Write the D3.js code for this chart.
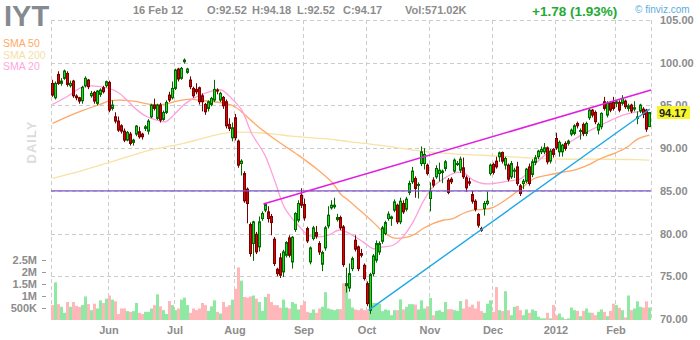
<!DOCTYPE html>
<html>
<head>
<meta charset="utf-8">
<script src="https://cdn.jsdelivr.net/npm/d3@7/dist/d3.min.js"></script>
<style>
  body { margin: 0; background: #fff; }
  svg { display: block; font-family: Arial, "Liberation Sans", sans-serif; }
</style>
</head>
<body>
<div class="chart"></div>
<script>
// IYT daily, 4 May 2011 .. 16 Feb 2012 (200 sessions)
const open = [
  97.58, 95.9, 98.63, 97.58, 98.17, 98.75, 97.31, 97.85, 96.1, 95.9,
  95.55, 97.31, 97.97, 96.13, 96.52, 95.24, 96.29, 97.07, 97.31, 97.7,
  94.65, 93.67, 93.17, 92.62, 91.99, 90.94, 91.64, 90.67, 91.64, 91.92,
  91.64, 92.31, 91.99, 93.67, 95.04, 93.48, 95.04, 93.36, 94.18, 96.21,
  95.9, 96.99, 99.26, 98.17, 100.12, 98.87, 97.97, 96.99, 96.88, 97.07,
  96.13, 95.12, 94.65, 95.12, 95.63, 96.8, 95.63, 95.94, 95.43, 92.78,
  91.21, 93.56, 90.82, 88.2, 87.03, 85.2, 81.06, 78.83, 79.92, 78.44,
  81.76, 82.74, 82.54, 82.0, 79.34, 75.82, 77.15, 75.51, 77.46, 79.49,
  76.68, 80.47, 81.56, 84.49, 83.4, 80.59, 76.68, 79.42, 80.12, 78.83,
  76.41, 78.32, 80.9, 83.01, 83.13, 81.64, 81.88, 80.78, 73.87, 73.63,
  75.9, 79.22, 78.44, 77.66, 76.29, 74.14, 71.02, 75.31, 76.88, 77.85,
  79.1, 80.0, 81.76, 81.76, 82.74, 83.32, 81.37, 83.52, 82.85, 84.81,
  86.06, 86.45, 85.67, 88.2, 88.2, 88.01, 84.1, 86.25, 86.64, 87.03,
  87.15, 87.62, 86.25, 86.37, 87.31, 88.09, 87.42, 87.7, 86.53, 86.06,
  84.57, 83.79, 82.23, 80.59, 82.93, 83.52, 87.03, 88.09, 88.48, 88.99,
  89.49, 88.01, 88.01, 86.64, 87.31, 87.81, 85.59, 85.86, 86.13, 87.81,
  86.92, 88.32, 88.99, 89.57, 89.57, 90.04, 88.48, 89.85, 91.13, 89.57,
  89.57, 90.55, 90.55, 91.64, 91.72, 92.89, 91.99, 92.78, 91.72, 93.56,
  94.45, 94.18, 92.11, 92.5, 95.43, 93.87, 95.31, 95.35, 95.24, 95.35,
  95.24, 95.51, 94.65, 95.04, 94.57, 93.48, 94.34, 94.57, 94.45, 92.52
];
const high = [
  98.0, 97.8, 99.0, 98.2, 99.2, 99.0, 97.9, 98.0, 96.3, 96.0,
  97.3, 98.4, 98.1, 96.7, 96.7, 96.8, 97.0, 97.3, 97.9, 97.9,
  95.6, 94.2, 93.7, 92.8, 92.3, 92.0, 91.9, 91.1, 92.7, 92.5,
  91.8, 92.7, 93.4, 95.2, 95.8, 95.2, 95.3, 94.4, 95.6, 96.6,
  97.8, 99.3, 99.4, 99.5, 100.5, 99.4, 98.4, 97.2, 97.6, 97.2,
  96.4, 95.3, 95.6, 96.0, 98.0, 97.0, 96.6, 96.1, 95.7, 93.5,
  93.0, 94.0, 91.0, 88.7, 87.3, 85.4, 81.3, 81.5, 80.2, 82.0,
  82.6, 83.6, 83.2, 82.3, 79.6, 76.0, 77.7, 78.1, 79.1, 79.8,
  79.7, 82.5, 83.9, 85.3, 84.1, 80.8, 78.5, 80.9, 80.9, 79.1,
  78.0, 80.9, 83.2, 83.9, 84.2, 82.3, 82.1, 81.0, 76.0, 76.5,
  77.3, 79.8, 78.6, 78.2, 76.5, 74.4, 75.4, 77.6, 79.2, 79.1,
  80.9, 81.5, 82.6, 82.1, 84.0, 83.5, 84.2, 83.9, 84.3, 86.2,
  87.8, 86.7, 86.0, 90.2, 90.0, 88.2, 86.0, 86.6, 88.0, 88.3,
  87.5, 88.6, 86.5, 86.6, 88.8, 88.5, 89.0, 88.9, 86.8, 86.5,
  85.0, 84.0, 82.4, 80.8, 83.8, 84.9, 88.2, 88.3, 89.0, 89.6,
  89.6, 89.0, 88.2, 88.5, 87.7, 88.4, 85.8, 86.4, 87.7, 88.2,
  88.7, 89.2, 89.8, 90.2, 90.6, 90.2, 89.9, 90.0, 91.8, 90.9,
  90.5, 90.8, 91.0, 92.3, 92.8, 93.1, 92.3, 93.0, 93.1, 94.6,
  94.6, 94.4, 93.0, 94.2, 96.0, 95.5, 95.5, 96.0, 95.6, 95.6,
  96.2, 95.7, 95.2, 95.2, 95.5, 94.3, 95.2, 94.8, 94.6, 94.18
];
const low = [
  96.0, 95.7, 97.4, 97.3, 98.0, 97.2, 97.1, 95.9, 95.6, 95.2,
  95.2, 97.1, 96.9, 95.9, 95.2, 95.0, 96.0, 96.4, 97.1, 94.2,
  94.4, 92.9, 91.9, 91.7, 90.7, 90.8, 90.3, 90.3, 91.4, 91.1,
  91.0, 92.0, 91.6, 93.5, 94.4, 93.3, 93.0, 93.2, 94.0, 95.4,
  95.7, 96.8, 97.8, 98.0, 99.9, 98.7, 96.9, 95.9, 96.3, 95.1,
  94.3, 93.9, 94.3, 94.9, 95.4, 96.3, 95.4, 94.6, 92.3, 92.0,
  90.8, 90.9, 87.7, 86.8, 83.6, 81.2, 77.3, 76.8, 77.6, 77.9,
  81.5, 82.5, 81.3, 79.8, 76.2, 75.0, 74.8, 74.9, 77.2, 77.2,
  75.9, 80.2, 81.3, 83.0, 81.5, 78.9, 76.4, 79.2, 79.4, 77.5,
  75.6, 78.0, 80.6, 82.8, 82.9, 81.4, 80.4, 76.1, 73.1, 73.2,
  75.6, 77.9, 75.6, 77.2, 74.5, 71.5, 70.6, 75.0, 76.6, 77.5,
  78.8, 79.8, 81.5, 80.9, 82.5, 81.1, 81.1, 82.3, 82.6, 84.5,
  85.8, 84.2, 84.1, 87.9, 87.5, 86.8, 82.6, 85.4, 86.4, 86.1,
  85.9, 87.3, 84.6, 85.8, 87.1, 87.9, 87.1, 86.4, 84.9, 85.6,
  83.5, 82.6, 80.7, 80.2, 82.1, 83.3, 86.8, 86.9, 87.6, 88.4,
  88.2, 87.5, 86.1, 86.4, 86.5, 85.6, 84.4, 85.2, 85.9, 85.6,
  86.6, 88.0, 88.7, 89.3, 89.3, 88.1, 88.2, 88.9, 89.8, 89.0,
  89.0, 89.7, 90.3, 91.4, 91.5, 92.3, 91.0, 91.4, 91.4, 93.3,
  93.6, 92.8, 91.6, 92.2, 94.4, 93.6, 94.2, 94.4, 94.8, 94.2,
  95.0, 94.6, 94.3, 94.1, 94.3, 92.8, 94.1, 93.5, 91.9, 92.52
];
const close = [
  96.21, 97.58, 97.58, 97.85, 99.03, 97.46, 97.58, 96.13, 95.9, 95.51,
  97.11, 98.17, 97.19, 96.41, 95.51, 96.68, 96.8, 96.6, 97.78, 94.45,
  95.04, 93.17, 92.11, 91.99, 90.94, 91.84, 90.55, 90.94, 92.58, 91.33,
  91.33, 92.5, 93.17, 95.04, 94.65, 95.04, 93.28, 94.18, 95.35, 95.63,
  96.99, 99.14, 98.09, 99.34, 100.31, 99.26, 97.19, 96.13, 96.6, 95.43,
  95.43, 94.26, 95.43, 95.82, 96.88, 96.68, 96.41, 94.96, 92.62, 92.31,
  92.39, 91.21, 88.01, 88.48, 83.83, 83.52, 77.66, 81.37, 77.85, 81.37,
  82.35, 83.4, 81.76, 81.29, 76.49, 75.31, 75.12, 77.85, 78.95, 77.46,
  79.57, 82.35, 83.52, 83.32, 81.84, 79.14, 78.32, 80.67, 79.69, 77.85,
  77.78, 80.67, 82.15, 83.32, 83.32, 81.88, 80.67, 76.37, 74.14, 75.31,
  77.07, 78.17, 75.9, 77.46, 74.73, 71.8, 75.2, 77.38, 78.83, 78.83,
  80.67, 81.29, 82.27, 81.95, 83.71, 81.37, 83.79, 82.54, 84.03, 85.86,
  87.31, 85.28, 85.75, 89.57, 89.26, 87.03, 84.96, 85.67, 87.62, 87.42,
  87.31, 88.4, 84.81, 86.06, 88.6, 88.2, 88.71, 86.64, 85.35, 85.9,
  83.79, 82.85, 80.98, 80.39, 83.52, 83.79, 88.01, 87.15, 87.81, 89.45,
  88.48, 88.79, 86.37, 88.2, 87.42, 85.86, 84.69, 86.13, 87.54, 85.86,
  88.4, 88.87, 89.65, 89.85, 90.04, 88.4, 89.65, 89.26, 90.04, 90.67,
  90.35, 89.96, 90.82, 92.11, 92.62, 92.62, 92.07, 91.72, 92.89, 94.45,
  93.87, 93.09, 92.78, 94.06, 94.65, 95.24, 94.45, 94.65, 95.43, 94.45,
  95.82, 94.85, 94.96, 94.34, 94.73, 93.67, 95.04, 93.95, 92.23, 94.17
];
// volume, millions of shares
const volume = [
  0.62, 1.57, 0.66, 0.55, 0.30, 0.75, 0.55, 0.75, 0.59, 0.55,
  0.62, 0.98, 0.66, 0.41, 0.68, 0.48, 0.82, 0.71, 0.89, 1.02,
  0.85, 0.78, 0.25, 0.48, 0.48, 0.37, 0.34, 0.37, 0.71, 0.30,
  0.25, 0.34, 0.34, 0.48, 0.62, 1.07, 0.57, 0.41, 0.25, 0.79,
  0.62, 0.41, 0.48, 0.85, 0.93, 0.62, 0.30, 0.48, 0.41, 0.48,
  0.71, 0.62, 0.38, 0.57, 0.82, 0.34, 0.27, 0.75, 0.55, 0.62,
  0.85, 1.30, 2.19, 1.64, 0.96, 0.93, 0.98, 1.02, 0.89, 0.75,
  0.38, 0.96, 1.09, 0.75, 0.62, 0.62, 0.51, 0.85, 0.52, 0.48,
  0.75, 0.68, 0.44, 0.62, 0.78, 0.34, 0.30, 0.44, 0.30, 0.48,
  0.55, 1.16, 0.48, 0.44, 0.41, 0.45, 0.45, 1.53, 1.37, 0.89,
  0.52, 0.44, 0.41, 0.48, 0.41, 0.44, 0.55, 0.71, 0.71, 0.68,
  0.37, 0.44, 0.41, 0.20, 0.41, 0.41, 0.86, 0.44, 0.55, 0.66,
  0.66, 0.64, 0.44, 0.82, 0.48, 0.57, 0.92, 0.20, 0.38, 0.41,
  0.34, 0.75, 0.45, 0.45, 0.41, 0.38, 0.79, 0.48, 0.86, 0.55,
  0.64, 0.48, 0.78, 0.37, 0.30, 0.68, 0.82, 0.34, 1.37, 0.41,
  0.37, 1.20, 0.41, 0.20, 0.55, 0.59, 0.41, 0.20, 0.44, 0.30,
  0.44, 0.38, 0.14, 0.07, 0.07, 0.30, 0.07, 0.62, 0.20, 0.27,
  0.11, 0.04, 0.07, 0.52, 0.41, 0.38, 0.16, 0.38, 0.48, 0.31,
  0.30, 0.20, 0.34, 0.44, 0.34, 0.16, 0.38, 0.68, 0.62, 0.51,
  0.41, 0.11, 1.02, 0.41, 0.48, 0.78, 0.55, 0.52, 0.78, 0.52
];

// moving averages: [session index, price]
const sma20 = [
  [0, 95.12], [4.8, 96.02], [10.4, 97.19], [15.9, 97.19], [21.5, 96.6], [24.8, 95.63],
  [28.2, 94.45], [31.5, 93.67], [34.8, 93.28], [37.6, 93.09], [40.4, 93.87], [43.7, 95.04],
  [47, 95.82], [53.1, 96.68], [56.4, 96.8], [59.7, 95.82], [63.1, 94.45], [66.4, 91.72],
  [70.8, 89.18], [74.2, 86.06], [77.5, 82.93], [81.9, 80.98], [85.3, 79.81], [88.6, 79.61],
  [92, 79.81], [95.3, 80.39], [97.9, 80.2], [103.5, 79.03], [106.8, 78.24], [110.2, 78.44],
  [113.5, 78.63], [116.8, 79.61], [120.2, 81.37], [123.5, 83.71], [126.8, 85.47], [130.2, 86.37],
  [133.5, 87.03], [136.8, 87.15], [140.2, 86.25], [143.5, 85.86], [146.8, 85.86], [151.7, 86.13],
  [156.2, 86.45], [159.5, 87.62], [162.8, 88.79], [167.3, 89.96], [171.7, 90.55], [176.2, 91.53],
  [180.6, 92.31], [185.1, 93.09], [189.5, 93.79], [193.9, 94.18], [199, 94.45]
];
const sma50 = [
  [0, 92.89], [4.8, 93.67], [10.4, 94.45], [15.9, 95.12], [19.3, 95.55], [27, 95.51],
  [32.6, 95.12], [37, 95.12], [41.5, 95.51], [45.9, 95.74], [48.6, 95.63], [57.5, 95.24],
  [60.8, 94.85], [64.2, 93.87], [68.6, 92.5], [75.3, 90.74], [81.9, 89.18], [88.6, 87.42],
  [93, 86.06], [96.4, 84.49], [97.9, 84.1], [102.4, 82.74], [106.8, 81.37], [110.2, 80.2],
  [113.5, 79.49], [116.8, 79.49], [120.2, 79.81], [123.5, 80.59], [126.8, 81.17], [130.2, 81.56],
  [133.5, 81.76], [136.8, 82.35], [140.2, 82.74], [144.6, 82.85], [147.3, 83.13], [151.7, 84.1],
  [156.2, 85.28], [160.6, 86.45], [165.1, 86.84], [169.5, 87.15], [173.9, 87.42], [178.4, 88.01],
  [182.8, 88.79], [187.3, 89.38], [191.7, 90.16], [195, 91.06], [199, 91.53]
];
const sma200 = [
  [0, 86.45], [10.4, 87.42], [21.5, 88.6], [32.6, 89.77], [43.7, 90.55], [50, 91.13],
  [55.3, 91.6], [59.7, 91.84], [66.4, 91.84], [73.1, 91.68], [79.7, 91.41], [86.4, 91.21],
  [93, 91.02], [99.3, 90.74], [109, 90.35], [120.2, 89.77], [131.3, 89.38], [142.4, 89.18],
  [147.3, 89.1], [158.4, 88.87], [169.5, 88.71], [180.6, 88.71], [191.7, 88.67], [199, 88.6]
];

// drawn lines: [session index, price]
const resistance = [[70.8, 83.45], [200, 96.8]];
const support = [[105.9, 71.04], [199.6, 94.58]];
const level = 85;

const monthLabels = ['Jun', 'Jul', 'Aug', 'Sep', 'Oct', 'Nov', 'Dec', '2012', 'Feb'];
const monthStart = [19, 41, 61, 84, 105, 126, 147, 168, 188];
const priceTicks = [70, 75, 80, 85, 90, 95, 100, 105];
const volTicks = [0.5, 1, 1.5, 2, 2.5];
const volTickLabels = ['500K', '1M', '1.5M', '2M', '2.5M'];

const W = 700, H = 340;
const plotL = 51, plotR = 651, plotT = 20, plotB = 319, volBase = 320;

const x = d3.scaleLinear().domain([0, close.length]).range([plotL, plotR]);
const y = d3.scaleLinear().domain([70, 105]).range([plotB, plotT]);
const yVol = d3.scaleLinear().domain([0, 2.5]).range([volBase, 260]);
const crisp = v => Math.round(v) + 0.5;

const svg = d3.select('.chart').append('svg')
    .attr('width', W)
    .attr('height', H);

// grid
const grid = svg.append('g')
    .attr('stroke', '#cccccc')
    .attr('stroke-dasharray', '4,3');
grid.selectAll('.hgrid')
  .data(priceTicks)
  .enter().append('line')
    .attr('x1', plotL).attr('x2', plotR)
    .attr('y1', d => crisp(y(d))).attr('y2', d => crisp(y(d)));
grid.selectAll('.vgrid')
  .data([0].concat(monthStart, [close.length]))
  .enter().append('line')
    .attr('x1', d => crisp(x(d))).attr('x2', d => crisp(x(d)))
    .attr('y1', plotT).attr('y2', volBase);

const up = d3.range(close.length).map(i => close[i] >= open[i]);

// volume
svg.append('g').selectAll('rect')
  .data(volume)
  .enter().append('rect')
    .attr('x', (d, i) => x(i))
    .attr('width', x(1) - x(0))
    .attr('y', d => yVol(d))
    .attr('height', d => volBase - yVol(d))
    .attr('fill', (d, i) => up[i] ? '#8fe9a3' : '#ffb7ba');

// moving averages
const maLine = d3.line()
    .x(d => x(d[0] + 0.5))
    .y(d => y(d[1]))
    .curve(d3.curveCatmullRom);
[[sma200, '#f7e3a6'], [sma50, '#ffa868'], [sma20, '#ff9fdc']].forEach(([data, color]) => {
  svg.append('path')
      .attr('d', maLine(data))
      .attr('fill', 'none')
      .attr('stroke', color)
      .attr('stroke-width', 1.3);
});

// candles
const candles = svg.append('g').selectAll('g')
  .data(close)
  .enter().append('g');
candles.append('line')
    .attr('x1', (d, i) => x(i) + 1.5).attr('x2', (d, i) => x(i) + 1.5)
    .attr('y1', (d, i) => y(high[i])).attr('y2', (d, i) => y(low[i]))
    .attr('stroke', (d, i) => up[i] ? '#006a00' : '#7a0000');
candles.append('rect')
    .attr('x', (d, i) => x(i) + 0.5)
    .attr('width', 2)
    .attr('y', (d, i) => y(Math.max(open[i], close[i])))
    .attr('height', (d, i) => Math.max(1, Math.abs(y(open[i]) - y(close[i]))))
    .attr('fill', (d, i) => up[i] ? '#1edc1e' : '#dd0000')
    .attr('stroke', (d, i) => up[i] ? '#006a00' : '#7a0000')
    .attr('stroke-width', 1);

// drawn lines
svg.append('line')
    .attr('x1', plotL).attr('x2', plotR)
    .attr('y1', y(level)).attr('y2', y(level))
    .attr('stroke', '#7b55c8').attr('stroke-width', 1.4);
const trend = d3.line().x(d => x(d[0])).y(d => y(d[1]));
svg.append('path').attr('d', trend(resistance))
    .attr('stroke', '#e01ee0').attr('stroke-width', 1.6).attr('fill', 'none');
svg.append('path').attr('d', trend(support))
    .attr('stroke', '#1ea8e6').attr('stroke-width', 1.4).attr('fill', 'none');

// price axis labels
svg.append('g').selectAll('text')
  .data(priceTicks)
  .enter().append('text')
    .attr('x', 660)
    .attr('y', d => y(d) + 4)
    .attr('font-size', '11px')
    .attr('font-weight', 'bold')
    .attr('fill', '#8c8c8c')
    .text(d => d.toFixed(2));

// last price box
const last = close[close.length - 1];
svg.append('rect')
    .attr('x', 657).attr('y', y(last) - 6.5)
    .attr('width', 33).attr('height', 13)
    .attr('fill', '#f6f62a');
svg.append('text')
    .attr('x', 659).attr('y', y(last) + 4)
    .attr('font-size', '11px').attr('font-weight', 'bold')
    .attr('fill', '#222')
    .text(last.toFixed(2));

// volume axis labels
const vAxis = svg.append('g');
vAxis.selectAll('line')
  .data(volTicks)
  .enter().append('line')
    .attr('x1', 42).attr('x2', 46)
    .attr('y1', d => crisp(yVol(d))).attr('y2', d => crisp(yVol(d)))
    .attr('stroke', '#999');
vAxis.selectAll('text')
  .data(volTicks)
  .enter().append('text')
    .attr('x', 37)
    .attr('y', d => yVol(d) + 4)
    .attr('text-anchor', 'end')
    .attr('font-size', '11px')
    .attr('font-weight', 'bold')
    .attr('fill', '#8c8c8c')
    .text((d, i) => volTickLabels[i]);

// month labels
svg.append('g').selectAll('text')
  .data(monthLabels)
  .enter().append('text')
    .attr('x', (d, i) => x(monthStart[i]) + 1)
    .attr('y', 334)
    .attr('text-anchor', 'middle')
    .attr('font-size', '11px')
    .attr('font-weight', 'bold')
    .attr('fill', '#8c8c8c')
    .text(d => d);

// header
svg.append('text')
    .attr('x', 4).attr('y', 26)
    .attr('font-size', '29px').attr('font-weight', 'bold')
    .attr('fill', '#858a90')
    .text('IYT');
const legend = [['SMA 50', '#ffaa66'], ['SMA 200', '#f5dfa6'], ['SMA 20', '#ffa6dc']];
svg.append('g').selectAll('text')
  .data(legend)
  .enter().append('text')
    .attr('x', 3)
    .attr('y', (d, i) => 47 + i * 11.7)
    .attr('font-size', '10.5px')
    .attr('fill', d => d[1])
    .text(d => d[0]);

svg.append('text')
    .attr('transform', 'translate(36,142) rotate(-90)')
    .attr('text-anchor', 'middle')
    .attr('font-size', '13px').attr('font-weight', 'bold')
    .attr('letter-spacing', '1px')
    .attr('fill', '#dcdcdc')
    .text('DAILY');

const head = [
  ['16 Feb 12', 133], ['O:92.52', 207], ['H:94.18', 252], ['L:92.52', 297],
  ['C:94.17', 343], ['Vol:571.02K', 405]
];
svg.append('g').selectAll('text')
  .data(head)
  .enter().append('text')
    .attr('x', d => d[1]).attr('y', 14)
    .attr('font-size', '11px').attr('font-weight', 'bold')
    .attr('fill', '#8c8c8c')
    .text(d => d[0]);

svg.append('text')
    .attr('x', 532).attr('y', 16)
    .attr('font-size', '13.5px').attr('font-weight', 'bold')
    .attr('fill', '#22aa33')
    .text('+1.78 (1.93%)');
svg.append('text')
    .attr('x', 635).attr('y', 13)
    .attr('font-size', '10px')
    .attr('fill', '#5aaee0')
    .text('\u00a9 finviz.com');
</script>
</body>
</html>
